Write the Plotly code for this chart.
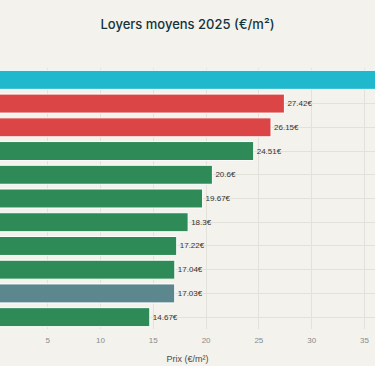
import plotly.graph_objects as go

categories = ["Ville A", "Ville B", "Ville C", "Ville D", "Ville E", "Ville F",
              "Ville G", "Ville H", "Ville I", "Ville J", "Ville K"]
values = [38.0, 27.42, 26.15, 24.51, 20.6, 19.67, 18.3, 17.22, 17.04, 17.03, 14.67]
colors = ["#1FB8CD", "#DB4545", "#DB4545", "#2E8B57", "#2E8B57", "#2E8B57",
          "#2E8B57", "#2E8B57", "#2E8B57", "#5D878F", "#2E8B57"]
x_max = 36.0
labels = [f"{v:g}€" if v < x_max - 2 else "" for v in values]

fig = go.Figure(go.Bar(
    x=values, y=categories, orientation="h",
    marker=dict(color=colors, line=dict(color="#FFFFFF", width=1)),
    text=labels, textposition="outside",
    textfont=dict(size=8, color="#333333", family="Liberation Sans"),
    cliponaxis=True,
))

fig.update_layout(
    width=375, height=366,
    paper_bgcolor="#F3F2EC", plot_bgcolor="#F3F2EC",
    margin=dict(l=0, r=0, t=68, b=37, autoexpand=False),
    font=dict(family="Liberation Sans", color="#13343B"),
    title=dict(text="Loyers moyens 2025 (€/m²)", x=0.5, xanchor="center",
               y=1 - 24 / 366, yanchor="middle",
               font=dict(size=13, color="#13343B", family="Inter", weight=500)),
    bargap=0.2,
    showlegend=False,
)
fig.update_xaxes(range=[0.48, x_max], tickvals=[5, 10, 15, 20, 25, 30, 35],
                 showgrid=True, gridcolor="#E2E1DA", gridwidth=1,
                 zeroline=False, showline=False, automargin=False,
                 ticks="outside", ticklen=3, tickcolor="rgba(0,0,0,0)",
                 tickfont=dict(size=8, color="#8A8A8A", family="Liberation Sans"),
                 title=dict(text="Prix (€/m²)", standoff=12,
                            font=dict(size=9, color="#4A4A4A", family="Liberation Sans")))
fig.update_yaxes(categoryorder="array", categoryarray=categories[::-1],
                 showticklabels=False, showgrid=True, gridcolor="#E2E1DA",
                 zeroline=False, showline=False, automargin=False)

fig.write_html("out.html", config={"displayModeBar": False},
               post_script="document.body.style.margin='0';")
